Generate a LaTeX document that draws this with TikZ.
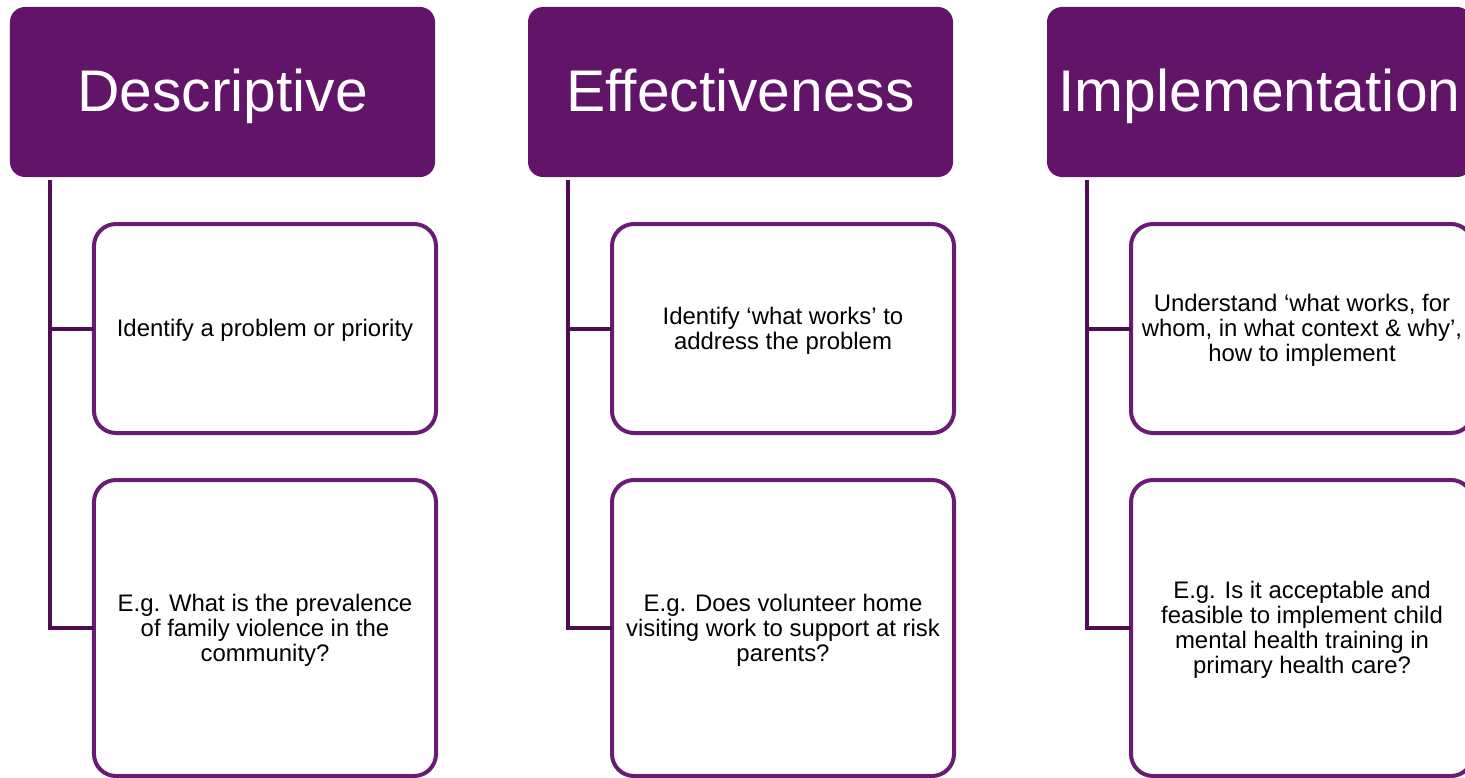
\documentclass[tikz,border=0pt]{standalone}
\usepackage{fontspec}
\setmainfont{Liberation Sans}
\definecolor{hdr}{HTML}{621468}
\definecolor{bord}{HTML}{6A1B74}
\definecolor{conn}{HTML}{4E0F52}
\begin{document}
\begin{tikzpicture}[x=1bp,y=-1bp,
  header/.style={fill=hdr, rounded corners=15bp, minimum width=425bp, minimum height=170bp,
    inner sep=0pt, outer sep=0pt},
  headtext/.style={text=white, font=\fontsize{59}{62}\selectfont, inner sep=0pt,
    text height=46bp, text depth=8bp},
  childbox/.style={draw=bord, line width=4bp, fill=white, rounded corners=22bp,
    minimum width=342bp, inner sep=0pt, outer sep=0pt},
  childtext/.style={align=center, inner sep=0pt, font=\fontsize{24}{25}\selectfont},
  upper/.style={childbox, minimum height=209bp},
  lower/.style={childbox, minimum height=296bp},
  connline/.style={draw=conn, line width=4bp}]
\clip (0,0) rectangle (1465,777);
\fill[white] (0,0) rectangle (1465,777);
% column 1
\node[header] (h1) at (222.5,92) {};
\node[headtext] (h1t) at (h1.center) {Descriptive};
\node[upper] (a1) at (265,328.5) {};
\node[childtext] (a1t) at ([yshift=-2bp]a1.center) {Identify a problem or priority};
\node[lower] (b1) at (265,628) {};
\node[childtext] (b1t) at ([yshift=-2bp]b1.center) {E.g. What is the prevalence\\of family violence in the\\community?};
% column 2
\node[header] (h2) at (740.5,92) {};
\node[headtext] (h2t) at (h2.center) {Effectiveness};
\node[upper] (a2) at (783,328.5) {};
\node[childtext] (a2t) at ([yshift=-2bp]a2.center) {Identify ‘what works’ to\\address the problem};
\node[lower] (b2) at (783,628) {};
\node[childtext] (b2t) at ([yshift=-2bp]b2.center) {E.g. Does volunteer home\\visiting work to support at risk\\parents?};
% column 3
\node[header] (h3) at (1259.5,92) {};
\node[headtext] (h3t) at (h3.center) {Implementation};
\node[upper] (a3) at (1302,328.5) {};
\node[childtext] (a3t) at ([yshift=-2bp]a3.center) {Understand ‘what works, for\\whom, in what context \& why’,\\how to implement};
\node[lower] (b3) at (1302,628) {};
\node[childtext] (b3t) at ([yshift=-2bp]b3.center) {E.g. Is it acceptable and\\feasible to implement child\\mental health training in\\primary health care?};
% connectors
\foreach \i in {1,2,3}{
  \coordinate (t\i) at ([xshift=40bp,yshift=-3bp]h\i.south west);
  \draw[connline] (t\i) |- (a\i.west);
  \draw[connline] (t\i) |- (b\i.west);
}
\end{tikzpicture}
\end{document}
